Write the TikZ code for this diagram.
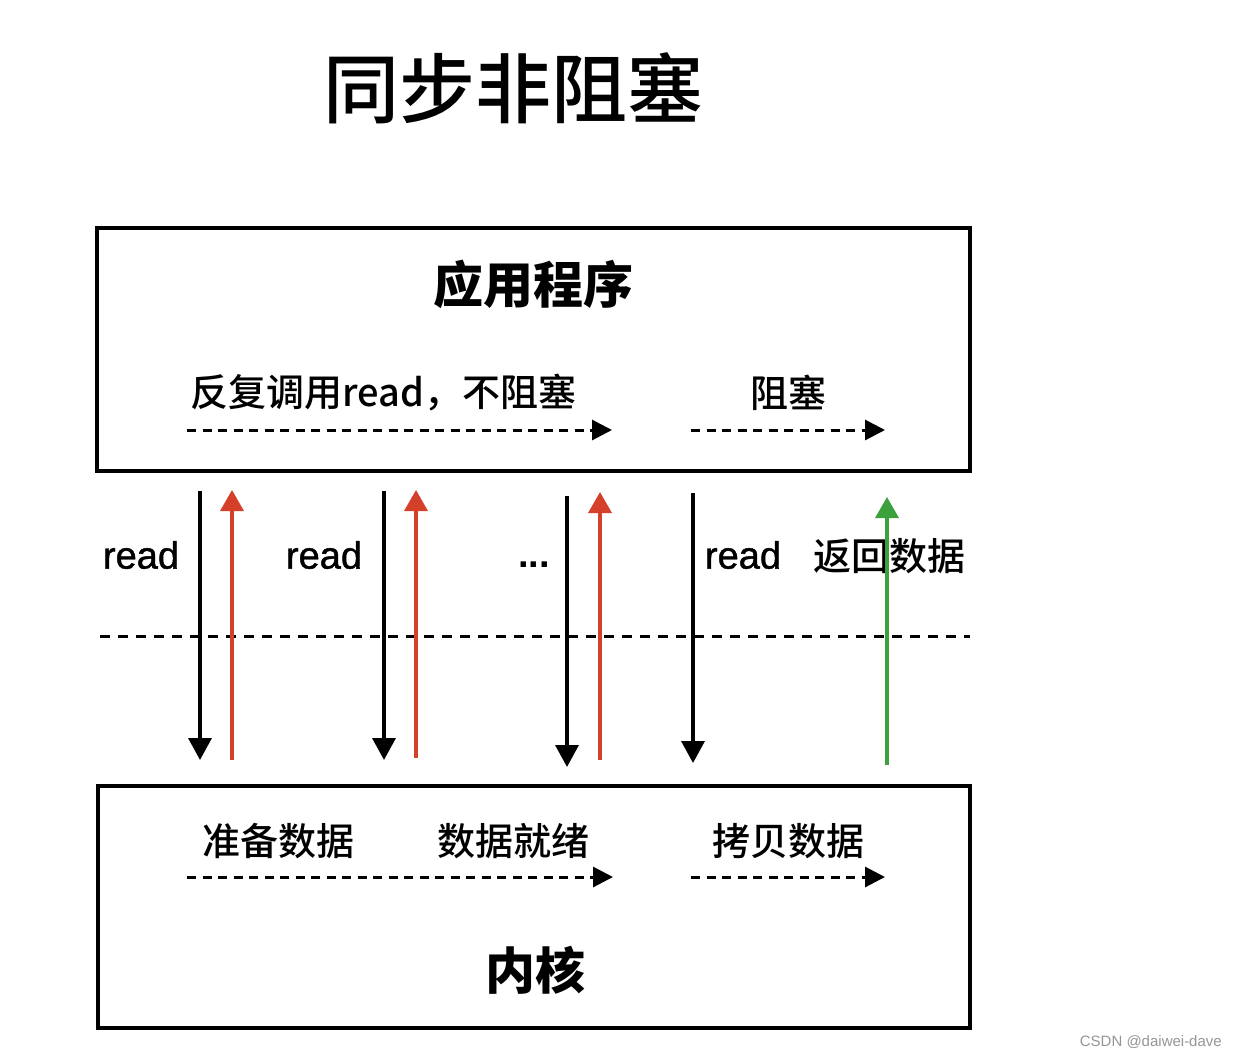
\documentclass[tikz,border=0pt]{standalone}
\usepackage{fontspec}
\setmainfont{Noto Sans CJK SC}
\newfontfamily\cjkb[BoldFont={Noto Sans CJK SC Bold}]{Noto Sans CJK SC Medium}
\newfontfamily\latn{Liberation Sans}
\newfontfamily\latnm[FakeBold=1.2]{Liberation Sans}
\usetikzlibrary{arrows.meta}
\definecolor{redarr}{RGB}{212,64,42}
\definecolor{greenarr}{RGB}{60,160,60}
\definecolor{wm}{RGB}{150,150,150}
\tikzset{
  box/.style={draw=black, line width=4pt, inner sep=0pt},
  lbl/.style={inner sep=0pt, anchor=center},
  dasharr/.style={line width=3pt, dash pattern=on 9pt off 6.5pt, -{Triangle[width=20pt,length=20pt]}},
  downarr/.style={line width=3.5pt, black, -{Triangle[width=23pt,length=22pt]}},
  uparr/.style={line width=3.5pt, -{Triangle[width=23pt,length=21pt]}},
}
\begin{document}
\begin{tikzpicture}[x=1pt,y=-1pt]
\useasboundingbox (0,0) rectangle (1237,1058);
\fill[white] (0,0) rectangle (1237,1058);
% title
\node[lbl] (title) at (513,88) {\fontsize{76}{80}\selectfont\cjkb 同步非阻塞};
% boxes
\node[box, minimum width=873pt, minimum height=243pt] (app) at (533.5,349.5) {};
\node[box, minimum width=872pt, minimum height=242pt] (kern) at (534,907) {};
\node[lbl] (appt) at (533,284) {\fontsize{50}{54}\selectfont\bfseries 应用程序};
\node[lbl] (kernt) at (535,970) {\fontsize{50}{54}\selectfont\bfseries 内核};
% top row texts
\node[lbl, anchor=west] (rep) at (190,393) {\fontsize{38}{40}\selectfont\cjkb 反复调用read，不阻塞};
\node[lbl] (blk) at (788,393) {\fontsize{38}{40}\selectfont\cjkb 阻塞};
\coordinate (a1s) at (187,430); \coordinate (a1e) at (612,430);
\coordinate (a2s) at (691,430); \coordinate (a2e) at (885,430);
\draw[dasharr] (a1s) -- (a1e);
\draw[dasharr] (a2s) -- (a2e);
% bottom row texts
\node[lbl] (prep) at (278,841) {\fontsize{38}{40}\selectfont\cjkb 准备数据};
\node[lbl] (ready) at (513,841) {\fontsize{38}{40}\selectfont\cjkb 数据就绪};
\node[lbl] (copy) at (788,841) {\fontsize{38}{40}\selectfont\cjkb 拷贝数据};
\coordinate (b1s) at (187,877); \coordinate (b1e) at (613,877);
\coordinate (b2s) at (691,877); \coordinate (b2e) at (885,877);
\draw[dasharr] (b1s) -- (b1e);
\draw[dasharr] (b2s) -- (b2e);
% middle dashed line
\coordinate (mL) at (100,636); \coordinate (mR) at (970,636);
\draw[line width=3pt, dash pattern=on 10pt off 8pt] (mL) -- (mR);
% vertical arrows
\coordinate (d1t) at (200,491); \coordinate (d1b) at (200,760);
\coordinate (u1b) at (232,760); \coordinate (u1t) at (232,490);
\coordinate (d2t) at (384,491); \coordinate (d2b) at (384,760);
\coordinate (u2b) at (416,758); \coordinate (u2t) at (416,490);
\coordinate (d3t) at (567,496); \coordinate (d3b) at (567,767);
\coordinate (u3b) at (600,760); \coordinate (u3t) at (600,492);
\coordinate (d4t) at (693,493); \coordinate (d4b) at (693,763);
\coordinate (u4b) at (887,765); \coordinate (u4t) at (887,497);
\draw[downarr] (d1t) -- (d1b);
\draw[uparr, redarr] (u1b) -- (u1t);
\draw[downarr] (d2t) -- (d2b);
\draw[uparr, redarr] (u2b) -- (u2t);
\draw[downarr] (d3t) -- (d3b);
\draw[uparr, redarr] (u3b) -- (u3t);
\draw[downarr] (d4t) -- (d4b);
% labels
\node[lbl] (r1) at (141,555) {\fontsize{38}{40}\selectfont\latnm read};
\node[lbl] (r2) at (324,555) {\fontsize{38}{40}\selectfont\latnm read};
\node[lbl, anchor=base] (dots) at (534,567) {\fontsize{38}{40}\selectfont\latn\bfseries ...};
\node[lbl] (r4) at (743,555) {\fontsize{38}{40}\selectfont\latnm read};
\node[lbl] (ret) at (889,556) {\fontsize{38}{40}\selectfont\cjkb 返回数据};
\draw[uparr, greenarr] (u4b) -- (u4t);
% watermark
\node[lbl, anchor=east, text=wm] (wmk) at (1222,1042) {\fontsize{15}{17}\selectfont\latn CSDN @daiwei-dave};
\end{tikzpicture}
\end{document}
